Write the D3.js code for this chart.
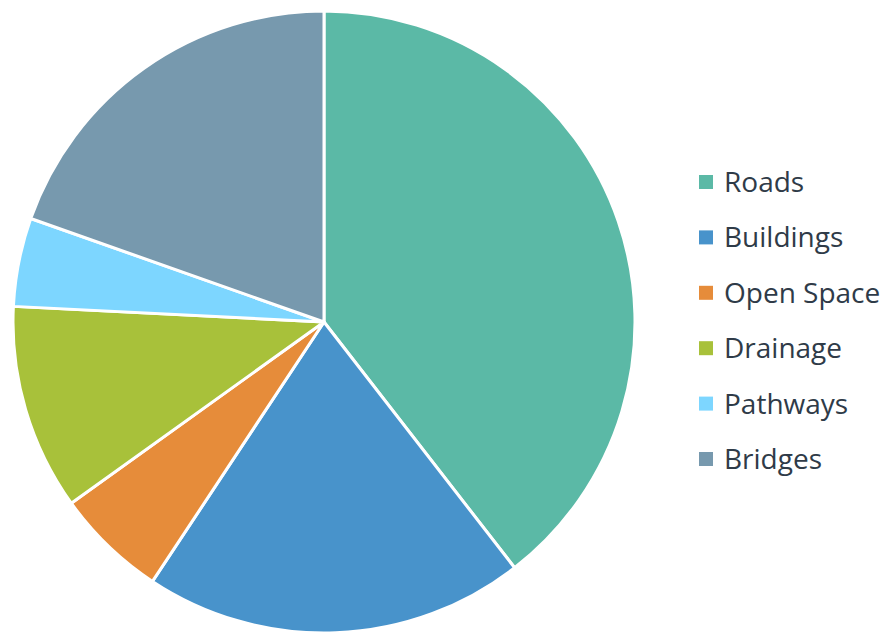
<!DOCTYPE html>
<html>
<head>
<meta charset="utf-8">
<script src="https://cdn.jsdelivr.net/npm/d3@7"></script>
<style>
  body { margin: 0; background: #fff; }
  svg { display: block; }
</style>
</head>
<body>
<div id="chart"></div>
<script>
// categories and shares (percent)
const categories = ["Roads", "Buildings", "Open Space", "Drainage", "Pathways", "Bridges"];
const values = [39.5, 19.8, 5.8, 10.7, 4.6, 19.6];
const colors = ["#5BB9A6", "#4893CB", "#E68C3A", "#A8C13A", "#7DD6FF", "#7799AE"];

const width = 892, height = 635;
const cx = 324, cy = 322, radius = 311;

const svg = d3.select("#chart")
    .append("svg")
    .attr("width", width)
    .attr("height", height);

const data = categories.map((c, i) => ({ name: c, value: values[i] }));

const color = d3.scaleOrdinal()
    .domain(categories)
    .range(colors);

// keep data order, start at 12 o'clock going clockwise
const pie = d3.pie()
    .sort(null)
    .value(d => d.value);

const arc = d3.arc()
    .innerRadius(0)
    .outerRadius(radius);

const g = svg.append("g")
    .attr("transform", `translate(${cx}, ${cy})`);

g.selectAll("path")
    .data(pie(data))
    .join("path")
    .attr("d", arc)
    .attr("fill", d => color(d.data.name))
    .attr("stroke", "#fff")
    .attr("stroke-width", 3)
    .attr("stroke-linejoin", "round");

// legend on the right
const legend = svg.append("g")
    .attr("transform", "translate(699, 182)");

categories.forEach((c, i) => {
    const item = legend.append("g")
        .attr("transform", `translate(0, ${i * 55.4})`);

    item.append("rect")
        .attr("x", 0)
        .attr("y", -7)
        .attr("width", 14)
        .attr("height", 14)
        .attr("fill", color(c));

    item.append("text")
        .attr("x", 25)
        .attr("dy", "0.36em")
        .style("font-family", "'Open Sans', 'Noto Sans', sans-serif")
        .style("font-size", "28px")
        .style("fill", "#2F3B48")
        .text(c);
});
</script>
</body>
</html>
